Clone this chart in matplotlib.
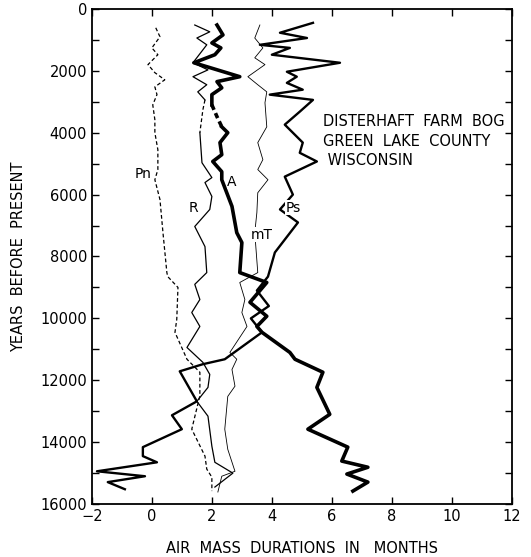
import matplotlib
matplotlib.use("Agg")
import matplotlib.pyplot as plt
import numpy as np

# air mass durations (months) vs years before present
pn_yrs = [610, 900, 1260, 1480, 1800, 2060, 2290, 2520, 2770, 3100, 3580, 4000, 4550, 5190,
          5520, 6160, 7230, 8520, 8650, 9000, 10030, 10450, 11320, 11740, 12500, 13580,
          14450, 14870, 15130, 15580]
pn_vals = [0.13, 0.27, 0.0, 0.2, -0.13, 0.1, 0.43, 0.1, 0.17, 0.03, 0.1, 0.1, 0.2, 0.2,
           0.1, 0.27, 0.37, 0.5, 0.53, 0.87, 0.83, 0.77, 1.17, 1.6, 1.6, 1.33,
           1.77, 1.83, 2.0, 2.0]

r_yrs = [520, 740, 940, 1160, 1740, 1970, 2190, 2450, 2680, 2940, 3260, 4000, 4970, 5450,
         5610, 6060, 6480, 7030, 7680, 8520, 8900, 9390, 9810, 10260, 10940, 11420, 11810,
         12230, 12680, 13160, 14130, 14650, 15000, 15450]
r_vals = [1.43, 1.93, 1.5, 1.83, 1.37, 1.87, 1.37, 1.83, 1.53, 1.77, 1.7, 1.6, 1.67, 2.0,
          1.77, 2.0, 1.93, 1.43, 1.77, 1.83, 1.43, 1.6, 1.33, 1.6, 1.17, 1.7, 1.93,
          1.87, 1.5, 1.87, 2.0, 2.1, 2.7, 2.1]

a_yrs = [520, 840, 1100, 1260, 1480, 1740, 2190, 2350, 2550, 2770, 3100, 3480, 3810, 4000,
         4320, 4710, 4930, 5260, 5520, 6380, 7230, 7550, 8520, 8840, 9480, 9930, 10260,
         10450, 11100, 11320, 11740, 12230, 13100, 13580, 14160, 14610, 14810, 15030,
         15290, 15580]
a_vals = [2.17, 2.37, 2.0, 2.3, 2.1, 1.4, 2.93, 2.17, 2.33, 2.0, 2.0, 2.17, 2.33, 2.53,
          2.27, 2.33, 2.03, 2.33, 2.33, 2.67, 2.83, 3.0, 2.93, 3.83, 3.27, 3.83, 3.5,
          3.67, 4.6, 4.77, 5.7, 5.5, 5.93, 5.2, 6.53, 6.33, 7.2, 6.5,
          7.2, 6.7]

mt_yrs = [520, 940, 1260, 1580, 1800, 2190, 2450, 2680, 3030, 3810, 4320, 4870, 5190, 5520,
          5940, 6580, 7230, 8520, 8840, 9390, 9810, 10260, 11100, 11320, 11650, 12190,
          12520, 13580, 14230, 14940, 15100, 15610]
mt_vals = [3.6, 3.43, 3.7, 3.43, 3.77, 3.2, 3.53, 3.83, 3.77, 3.83, 3.53, 3.7, 3.53, 3.87,
           3.53, 3.5, 3.43, 3.53, 2.93, 3.1, 3.0, 3.17, 2.6, 2.83, 2.67, 2.77,
           2.53, 2.43, 2.53, 2.77, 2.33, 2.2]

ps_yrs = [450, 770, 940, 1160, 1260, 1480, 1740, 2030, 2190, 2390, 2610, 2770, 2940, 3320,
          3740, 4320, 4650, 4930, 5420, 6000, 6480, 6900, 7870, 8650, 9100, 9600, 10000,
          10450, 11320, 11480, 11710, 12680, 13130, 13580, 14160, 14450, 14650, 14940,
          15100, 15290, 15520]
ps_vals = [5.37, 4.27, 5.17, 3.6, 4.6, 4.0, 6.27, 4.5, 4.83, 4.5, 5.03, 3.93, 5.37, 4.93,
           4.43, 5.03, 4.93, 5.5, 4.43, 4.7, 4.27, 4.87, 4.1, 3.87, 3.5, 3.9, 3.3,
           3.67, 2.43, 1.7, 0.93, 1.5, 0.67, 1.0, -0.3, -0.3, 0.17, -1.83,
           -0.23, -1.47, -0.9]

labels = ["Pn", "R", "A", "mT", "Ps"]
label_x = [-0.3, 1.4, 2.67, 3.67, 4.7]
label_y = [5350, 6420, 5580, 7290, 6420]

site_text = ["DISTERHAFT  FARM  BOG", "GREEN  LAKE  COUNTY", " WISCONSIN"]


def split_at(yrs, vals, lo, hi):
    # pieces before, inside and after a gap drawn dashed
    yrs, vals = np.array(yrs), np.array(vals)
    i0 = np.searchsorted(yrs, lo)
    i1 = np.searchsorted(yrs, hi)
    return (vals[:i0 + 1], yrs[:i0 + 1]), (vals[i0:i1 + 1], yrs[i0:i1 + 1]), (vals[i1:], yrs[i1:])


fig = plt.figure(figsize=(5.31, 5.57), dpi=100)
ax = fig.add_axes([0.173, 0.095, 0.791, 0.889])

ax.plot(pn_vals, pn_yrs, color="black", lw=0.9, ls=(0, (3, 2)))

a, b, c = split_at(r_yrs, r_vals, 2940, 4000)
ax.plot(*a, color="black", lw=0.9)
ax.plot(*b, color="black", lw=0.9, ls=(0, (3, 2)))
ax.plot(*c, color="black", lw=0.9)

a, b, c = split_at(a_yrs, a_vals, 3100, 3810)
ax.plot(*a, color="black", lw=2.6)
ax.plot(*b, color="black", lw=2.6, ls=(0, (1.5, 1)))
ax.plot(*c, color="black", lw=2.6)

ax.plot(mt_vals, mt_yrs, color="black", lw=0.6)
ax.plot(ps_vals, ps_yrs, color="black", lw=1.7)

for lab, lx, ly in zip(labels, label_x, label_y):
    ax.text(lx, ly, lab, fontsize=10, ha="center", va="center",
            bbox=dict(facecolor="white", edgecolor="none", pad=0.5))

for i, line in enumerate(site_text):
    ax.text(5.7, 3650 + i * 630, line, fontsize=10.5, ha="left", va="center")

ax.set_xlim(-2, 12)
ax.set_ylim(16000, 0)
ax.set_xticks(np.arange(-2, 13, 2))
ax.set_yticks(np.arange(0, 16001, 2000))
ax.set_yticks(np.arange(1000, 16000, 2000), minor=True)
ax.tick_params(which="both", direction="in", top=True, right=True, length=5, width=1,
               labelsize=10.5)
for s in ax.spines.values():
    s.set_linewidth(1.3)

ax.set_xlabel("AIR  MASS  DURATIONS  IN   MONTHS", fontsize=10.5, labelpad=12)
ax.set_ylabel("YEARS  BEFORE  PRESENT", fontsize=10.5, labelpad=10)

fig.savefig("out.png", dpi=100)
